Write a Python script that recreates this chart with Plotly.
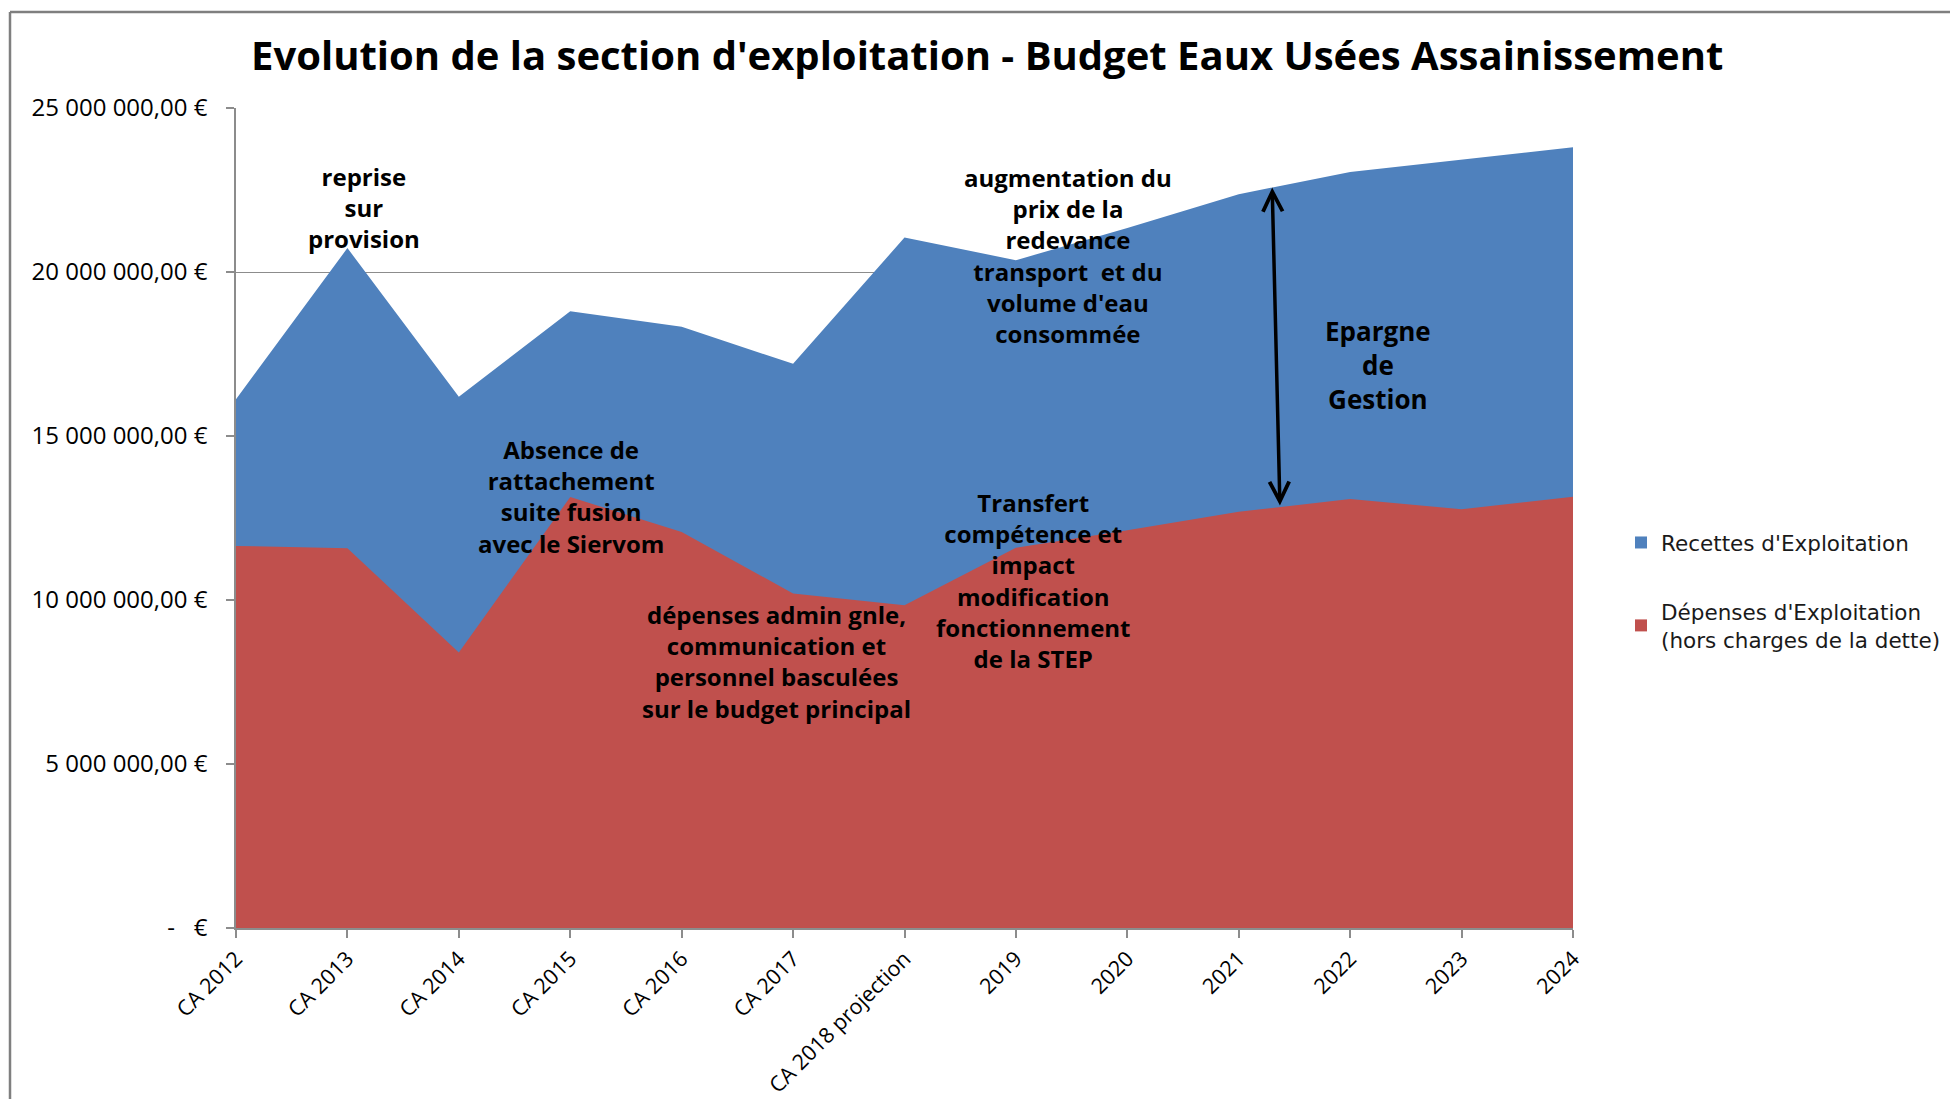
import plotly.graph_objects as go

categories = ["CA 2012", "CA 2013", "CA 2014", "CA 2015", "CA 2016", "CA 2017",
              "CA 2018 projection", "2019", "2020", "2021", "2022", "2023", "2024"]
recettes = [16.12e6, 20.73e6, 16.20e6, 18.80e6, 18.33e6, 17.20e6, 21.05e6,
            20.36e6, 21.34e6, 22.37e6, 23.05e6, 23.42e6, 23.80e6]
depenses = [11.65e6, 11.58e6, 8.40e6, 13.14e6, 12.07e6, 10.20e6, 9.84e6,
            11.59e6, 12.13e6, 12.69e6, 13.08e6, 12.77e6, 13.15e6]
y_tickvals = [0, 5e6, 10e6, 15e6, 20e6, 25e6]
y_ticktext = ["-   €", "5 000 000,00 €", "10 000 000,00 €", "15 000 000,00 €",
              "20 000 000,00 €", "25 000 000,00 €"]

name_rec = "Recettes d'Exploitation"
name_dep = "Dépenses d'Exploitation<br>(hors charges de la dette)"
title_text = "Evolution de la section d'exploitation - Budget Eaux Usées Assainissement"

BLUE = "#4F81BD"
RED = "#C0504D"
GRID = "#8C8C8C"
W, H = 1950, 1099
L, R, T, B = 236, 1573, 108, 928   # plot-area pixel box


def px(x):
    return (x - L) / (R - L)


def py(y):
    return (B - y) / (B - T)


fig = go.Figure()
fig.add_trace(go.Scatter(x=categories, y=recettes, mode="lines", fill="tozeroy",
                         fillcolor=BLUE, line=dict(width=0, color=BLUE),
                         showlegend=False, hoverinfo="skip"))
fig.add_trace(go.Scatter(x=categories, y=depenses, mode="lines", fill="tozeroy",
                         fillcolor=RED, line=dict(width=0, color=RED),
                         showlegend=False, hoverinfo="skip"))
# legend entries (square swatches)
fig.add_trace(go.Scatter(x=[None], y=[None], mode="markers", name=name_rec,
                         legendgroup="a",
                         marker=dict(symbol="square", size=12, color=BLUE)))
fig.add_trace(go.Scatter(x=[None], y=[None], mode="markers", name=name_dep,
                         legendgroup="b",
                         marker=dict(symbol="square", size=12, color=RED)))

TXT = "Open Sans"
notes = [
    ("reprise<br>sur<br>provision", 364, 207, 24),
    ("Absence de<br>rattachement<br>suite fusion<br>avec le Siervom", 571, 496, 24),
    ("dépenses admin gnle,<br>communication et<br>personnel basculées<br>sur le budget principal", 776, 661, 24),
    ("augmentation du<br>prix de la<br>redevance<br>transport  et du<br>volume d'eau<br>consommée", 1068, 255, 24),
    ("Transfert<br>compétence et<br>impact<br>modification<br>fonctionnement<br>de la STEP", 1033, 580, 24),
    ("Epargne<br>de<br>Gestion", 1378, 365, 26),
]
for text, x, y, s in notes:
    fig.add_annotation(text="<b>" + text + "</b>", x=px(x), y=py(y), xref="paper", yref="paper",
                       showarrow=False, xanchor="center", yanchor="middle", align="center",
                       font=dict(family=TXT, size=s, color="black"))

# double arrow "Epargne de Gestion" between the two curves
xa_top, xa_bot = 9.30, 9.37


def interp(vals, xv):
    i = int(xv)
    f = xv - i
    return vals[i] + f * (vals[i + 1] - vals[i])


fig.add_annotation(x=xa_top, y=interp(recettes, xa_top), ax=xa_bot, ay=interp(depenses, xa_bot),
                   xref="x", yref="y", axref="x", ayref="y", text="", showarrow=True,
                   arrowhead=5, startarrowhead=5, arrowside="end+start",
                   arrowsize=1.1, startarrowsize=1.1, arrowwidth=3.5, arrowcolor="black")

# title
fig.add_annotation(text="<b>" + title_text + "</b>", x=px(987), y=py(55), xref="paper", yref="paper",
                   showarrow=False, xanchor="center", yanchor="middle",
                   font=dict(family=TXT, size=40, color="black"))

# outer chart border (left and top)
fig.add_shape(type="line", xref="paper", yref="paper", x0=px(10), x1=px(10), y0=py(12), y1=py(H + 5),
              line=dict(color="#7F7F7F", width=2.5))
fig.add_shape(type="line", xref="paper", yref="paper", x0=px(10), x1=px(W + 5), y0=py(12), y1=py(12),
              line=dict(color="#7F7F7F", width=2.5))

fig.update_layout(
    width=W, height=H,
    margin=dict(l=L, r=W - R, t=T, b=H - B, pad=0, autoexpand=False),
    plot_bgcolor="white", paper_bgcolor="white",
    font=dict(family=TXT, color="black"),
    legend=dict(x=px(1621), y=py(522), xanchor="left", yanchor="top",
                font=dict(family="DejaVu Sans", size=21.5, color="#1a1a1a"),
                traceorder="grouped", tracegroupgap=38, itemwidth=30,
                bgcolor="rgba(0,0,0,0)"),
    xaxis=dict(type="category", range=[0, len(categories) - 1], showgrid=False,
               showline=True, linecolor=GRID, linewidth=1.5, automargin=False,
               ticks="outside", ticklen=8, tickcolor=GRID, tickwidth=1.5,
               tickangle=-45, tickfont=dict(family=TXT, size=21.5, color="black"),
               zeroline=False),
    yaxis=dict(range=[0, 25e6], tickvals=y_tickvals, ticktext=y_ticktext,
               showgrid=True, gridcolor=GRID, gridwidth=1.2, automargin=False,
               showline=True, linecolor=GRID, linewidth=1.5,
               ticks="outside", ticklen=8, tickcolor=GRID, tickwidth=1.5,
               tickfont=dict(family=TXT, size=24, color="black"),
               ticklabelstandoff=14, zeroline=False),
)

fig.write_html("out.html", config={"displayModeBar": False},
               post_script="document.body.style.margin='0';")
